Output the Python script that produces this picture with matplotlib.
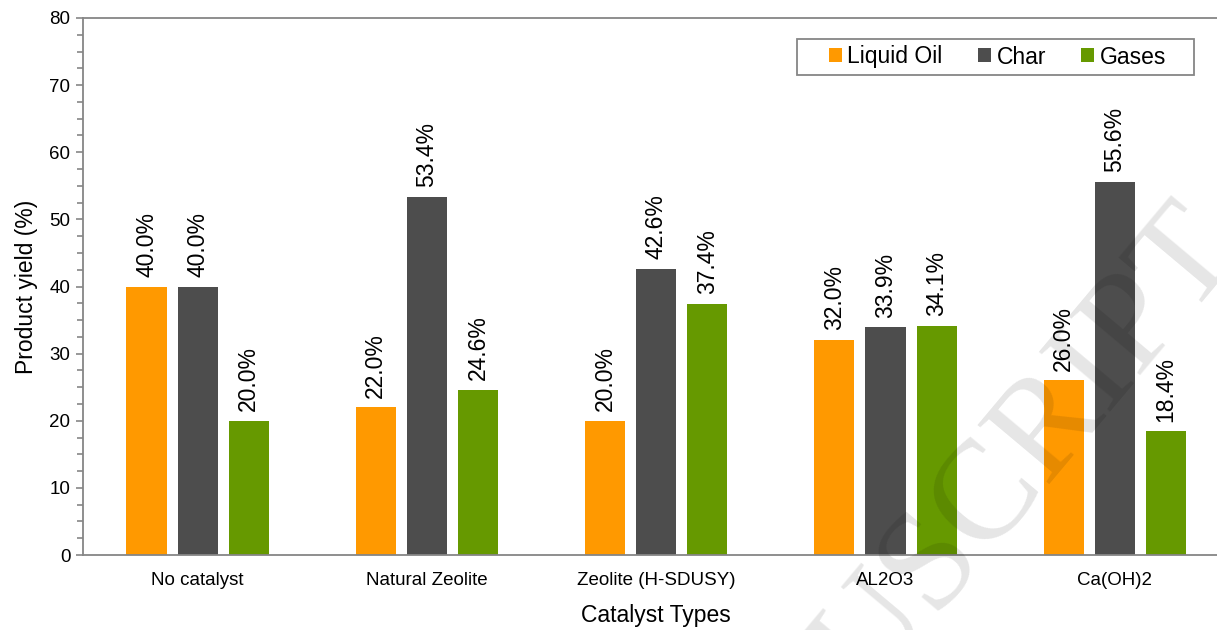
import numpy as np
import matplotlib.pyplot as plt
from matplotlib.patches import Rectangle

plt.rcParams['font.family'] = ['Liberation Sans', 'DejaVu Sans']

# Product yields (%) per catalyst
catalysts = ['No catalyst', 'Natural Zeolite', 'Zeolite (H-SDUSY)', 'AL2O3', 'Ca(OH)2']
liquid_oil = [40.0, 22.0, 20.0, 32.0, 26.0]
char = [40.0, 53.4, 42.6, 33.9, 55.6]
gases = [20.0, 24.6, 37.4, 34.1, 18.4]

series = [('Liquid Oil', liquid_oil, '#ff9900'),
          ('Char', char, '#4d4d4d'),
          ('Gases', gases, '#669900')]

W, H = 1217, 630
fig = plt.figure(figsize=(W / 100, H / 100), dpi=100)
ax = fig.add_axes([83 / W, 75 / H, 1146.5 / W, 537 / H])

x = np.arange(len(catalysts))
width = 0.175
offsets = [-0.223, 0.0, 0.223]

for (name, vals, color), off in zip(series, offsets):
    bars = ax.bar(x + off, vals, width, color=color, label=name, zorder=2)
    for b, v in zip(bars, vals):
        ax.annotate(f'{v:.1f}%', (b.get_x() + b.get_width() / 2, v),
                    xytext=(0, 7), textcoords='offset points',
                    rotation=90, ha='center', va='bottom', fontsize=16.5)

ax.set_xlim(-0.5, 4.5)
ax.set_ylim(0, 80)
ax.set_yticks(range(0, 81, 10))
ax.set_yticks(np.arange(0, 80, 2.5), minor=True)
ax.set_xticks(x)
ax.set_xticklabels(catalysts)
ax.tick_params(axis='x', length=0, labelsize=13.5, pad=12)
ax.tick_params(axis='y', which='major', length=5, width=1.2, color='#868686',
               labelsize=13.5, pad=4)
ax.tick_params(axis='y', which='minor', length=4, width=1.2, color='#868686')

for s in ['left', 'bottom', 'top']:
    ax.spines[s].set_color('#868686')
    ax.spines[s].set_linewidth(1.3)
ax.spines['right'].set_visible(False)

ax.set_xlabel('Catalyst Types', fontsize=16.5, labelpad=11)
ax.set_ylabel('Product yield (%)', fontsize=16.5, labelpad=8)

# legend entries, with a wider box drawn around them
ax.legend(loc='center left', bbox_to_anchor=(829 / W, 1 - 57 / H),
          bbox_transform=fig.transFigure, ncol=3, fontsize=16.5,
          frameon=False, borderaxespad=0, borderpad=0,
          handlelength=0.55, handleheight=0.55, handletextpad=0.25,
          columnspacing=1.55)
fig.patches.append(Rectangle((797 / W, 1 - 75 / H), 397 / W, 36 / H,
                             transform=fig.transFigure, fill=False,
                             edgecolor='#868686', linewidth=1.3))

# faint diagonal stamp across the lower right
fig.text(1.022, 0.60, 'ACCEPTED MANUSCRIPT', family='Liberation Serif',
         fontsize=102, color='black', alpha=0.1, rotation=50,
         rotation_mode='anchor', ha='right', va='baseline', zorder=10)

fig.savefig('out.png', dpi=100)
